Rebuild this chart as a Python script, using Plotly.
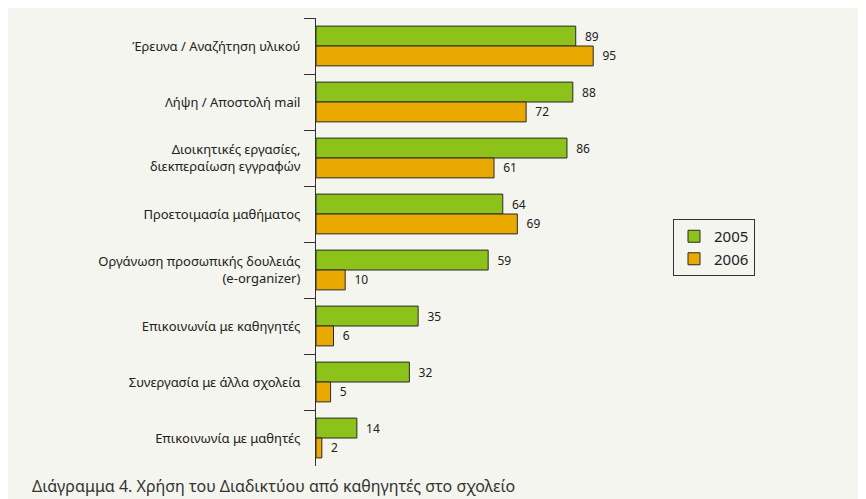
import plotly.graph_objects as go

categories = [
    "Έρευνα / Αναζήτηση υλικού",
    "Λήψη / Αποστολή mail",
    "Διοικητικές εργασίες,<br>διεκπεραίωση εγγραφών",
    "Προετοιμασία μαθήματος",
    "Οργάνωση προσωπικής δουλειάς<br>(e-organizer)",
    "Επικοινωνία με καθηγητές",
    "Συνεργασία με άλλα σχολεία",
    "Επικοινωνία με μαθητές",
]
values_2005 = [89, 88, 86, 64, 59, 35, 32, 14]
values_2006 = [95, 72, 61, 69, 10, 6, 5, 2]
series_names = ["2005", "2006"]
caption = "Διάγραμμα 4. Χρήση του Διαδικτύου από καθηγητές στο σχολείο"

BG = "#f3f5ee"
FONT = "Noto Sans"

L, T, PW, PH = 308, 10, 321, 448
W, H = 858, 491

fig = go.Figure()
for name, vals, color in [(series_names[0], values_2005, "#8cc21a"),
                          (series_names[1], values_2006, "#e9a900")]:
    fig.add_trace(go.Bar(
        y=categories, x=vals, name=name, orientation="h",
        marker=dict(color=color, line=dict(color="#2a2a2a", width=1)),
        text=[f"  {v}" for v in vals], textposition="outside",
        textfont=dict(size=12, color="#222", family=FONT),
        cliponaxis=False,
    ))

fig.update_layout(
    width=W, height=H,
    paper_bgcolor=BG, plot_bgcolor=BG,
    margin=dict(l=L, r=W - L - PW, t=T, b=H - T - PH, autoexpand=False),
    barmode="group", bargap=0.29, bargroupgap=0,
    font=dict(family=FONT, size=13, color="#222"),
    legend=dict(x=(665 - L) / PW, y=(T + PH - 211) / PH, xanchor="left", yanchor="top",
                bordercolor="#333", borderwidth=1, bgcolor=BG,
                font=dict(size=15, color="#222", family=FONT),
                traceorder="normal"),
    xaxis=dict(range=[0, 110], visible=False, showgrid=False, zeroline=False),
    yaxis=dict(autorange="reversed", showline=True, linecolor="#333", linewidth=1,
               ticks="outside", tickson="boundaries", ticklen=11, tickcolor="#333",
               ticklabelstandoff=12, automargin=False,
               showgrid=False, tickfont=dict(size=13, color="#222", family=FONT)),
    annotations=[dict(text=caption, xref="paper", yref="paper",
                      x=-(L - 22) / PW, y=-20 / PH, xanchor="left", yanchor="middle",
                      showarrow=False, font=dict(size=16, color="#333", family=FONT))],
)

fig.write_html("out.html")
